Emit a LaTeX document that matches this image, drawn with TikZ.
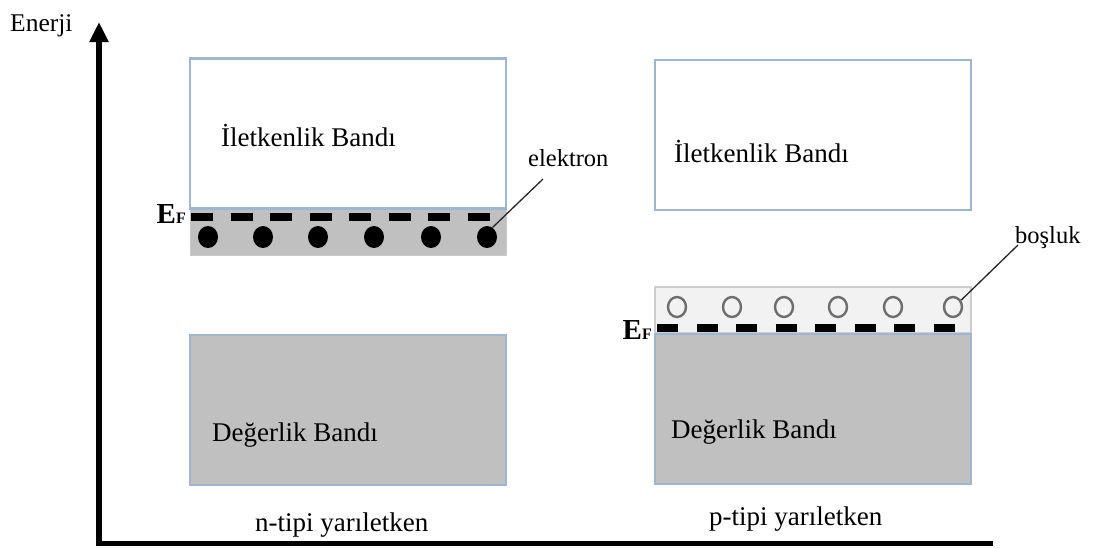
\documentclass[tikz,border=0pt]{standalone}
\usepackage{fontspec}
\setmainfont{Liberation Serif}
\usetikzlibrary{arrows.meta,shapes.geometric}

\definecolor{bandedge}{RGB}{160,182,208}
\definecolor{bandgray}{RGB}{192,192,192}
\definecolor{holestrip}{RGB}{242,242,242}
\definecolor{holeedge}{RGB}{205,205,205}
\definecolor{holering}{RGB}{110,110,110}

\tikzset{
  band/.style={draw=bandedge, line width=2.2pt, minimum width=316pt, inner sep=0pt, anchor=center},
  cband/.style={band, fill=white, minimum height=150pt},
  vband/.style={band, fill=bandgray, minimum height=150pt},
  estrip/.style={fill=bandgray, draw=bandgray!85!white, line width=1pt, minimum width=316pt, minimum height=46pt, inner sep=0pt},
  hstrip/.style={fill=holestrip, draw=holeedge, line width=1.2pt, minimum width=316pt, minimum height=46pt, inner sep=0pt},
  lbl/.style={font=\fontsize{27}{30}\selectfont, inner sep=0pt, anchor=base west},
  small/.style={font=\fontsize{24.5}{27}\selectfont, inner sep=0pt, anchor=base west},
  electron/.style={ellipse, fill=black, minimum width=20pt, minimum height=22pt, inner sep=0pt},
  hole/.style={ellipse, draw=holering, line width=2.4pt, fill=holestrip, minimum width=18pt, minimum height=20pt, inner sep=0pt},
  fermi/.style={line width=8pt, black},
  leader/.style={line width=1.3pt, black!85},
  axis/.style={line width=5.5pt, black},
}

\newcommand{\fermilabel}{{\bfseries\fontsize{29}{30}\selectfont E\fontsize{16}{17}\selectfont F}}

\begin{document}
\begin{tikzpicture}[x=1pt, y=-1pt]
  \useasboundingbox (0,0) rectangle (1101,547);

  % energy axes
  \coordinate (origin) at (99,543.5);
  \coordinate (ytop) at (99,22);
  \coordinate (xend) at (993,543.5);
  \draw[axis, -{Triangle[length=20pt, width=18pt]}] (origin) -- (ytop);
  \draw[axis] ([xshift=-2.75pt]origin) -- (xend);
  \node[small, font=\fontsize{25.5}{28}\selectfont] (enerji) at (10,31) {Enerji};

  % ---------- n-type ----------
  \node[estrip] (nstrip) at (348,232) {};
  \node[cband] (ncond) at (348,133.5) {};
  \node[vband] (nval) at (348,410) {};
  \node[lbl] (ncondtext) at (221,146) {İletkenlik Bandı};
  \node[lbl] (nvaltext) at (212,441) {Değerlik Bandı};
  \node[lbl] (ntype) at (255,531) {n-tipi yarıletken};

  \foreach \i in {0,...,7}
    \draw[fermi] (191+39.5*\i,217) -- ++(22,0);
  \node[anchor=base east, inner sep=0pt] (nEF) at (186,223) {\fermilabel};

  \foreach \x [count=\k] in {208,263,318,374,431,487}
    \node[electron] (e\k) at (\x,237) {};

  \node[small] (elabel) at (528,166) {elektron};
  \coordinate (etip) at (543,179);
  \draw[leader] (etip) -- (e6.60);

  % ---------- p-type ----------
  \node[hstrip] (pstrip) at (813,310) {};
  \node[cband] (pcond) at (813,135) {};
  \node[vband] (pval) at (813,409) {};
  \node[lbl] (pcondtext) at (674,162) {İletkenlik Bandı};
  \node[lbl] (pvaltext) at (671,438) {Değerlik Bandı};
  \node[lbl] (ptype) at (709,525) {p-tipi yarıletken};

  \foreach \x [count=\k] in {677,732,784,838,893,953}
    \node[hole] (h\k) at (\x,307) {};

  \foreach \i in {0,...,7}
    \draw[fermi] (657+39.5*\i,328) -- ++(21,0);
  \node[anchor=base east, inner sep=0pt] (pEF) at (652,339) {\fermilabel};

  \node[small] (hlabel) at (1015,243) {boşluk};
  \coordinate (htip) at (1018,245);
  \draw[leader] (htip) -- (h6.40);
\end{tikzpicture}
\end{document}
